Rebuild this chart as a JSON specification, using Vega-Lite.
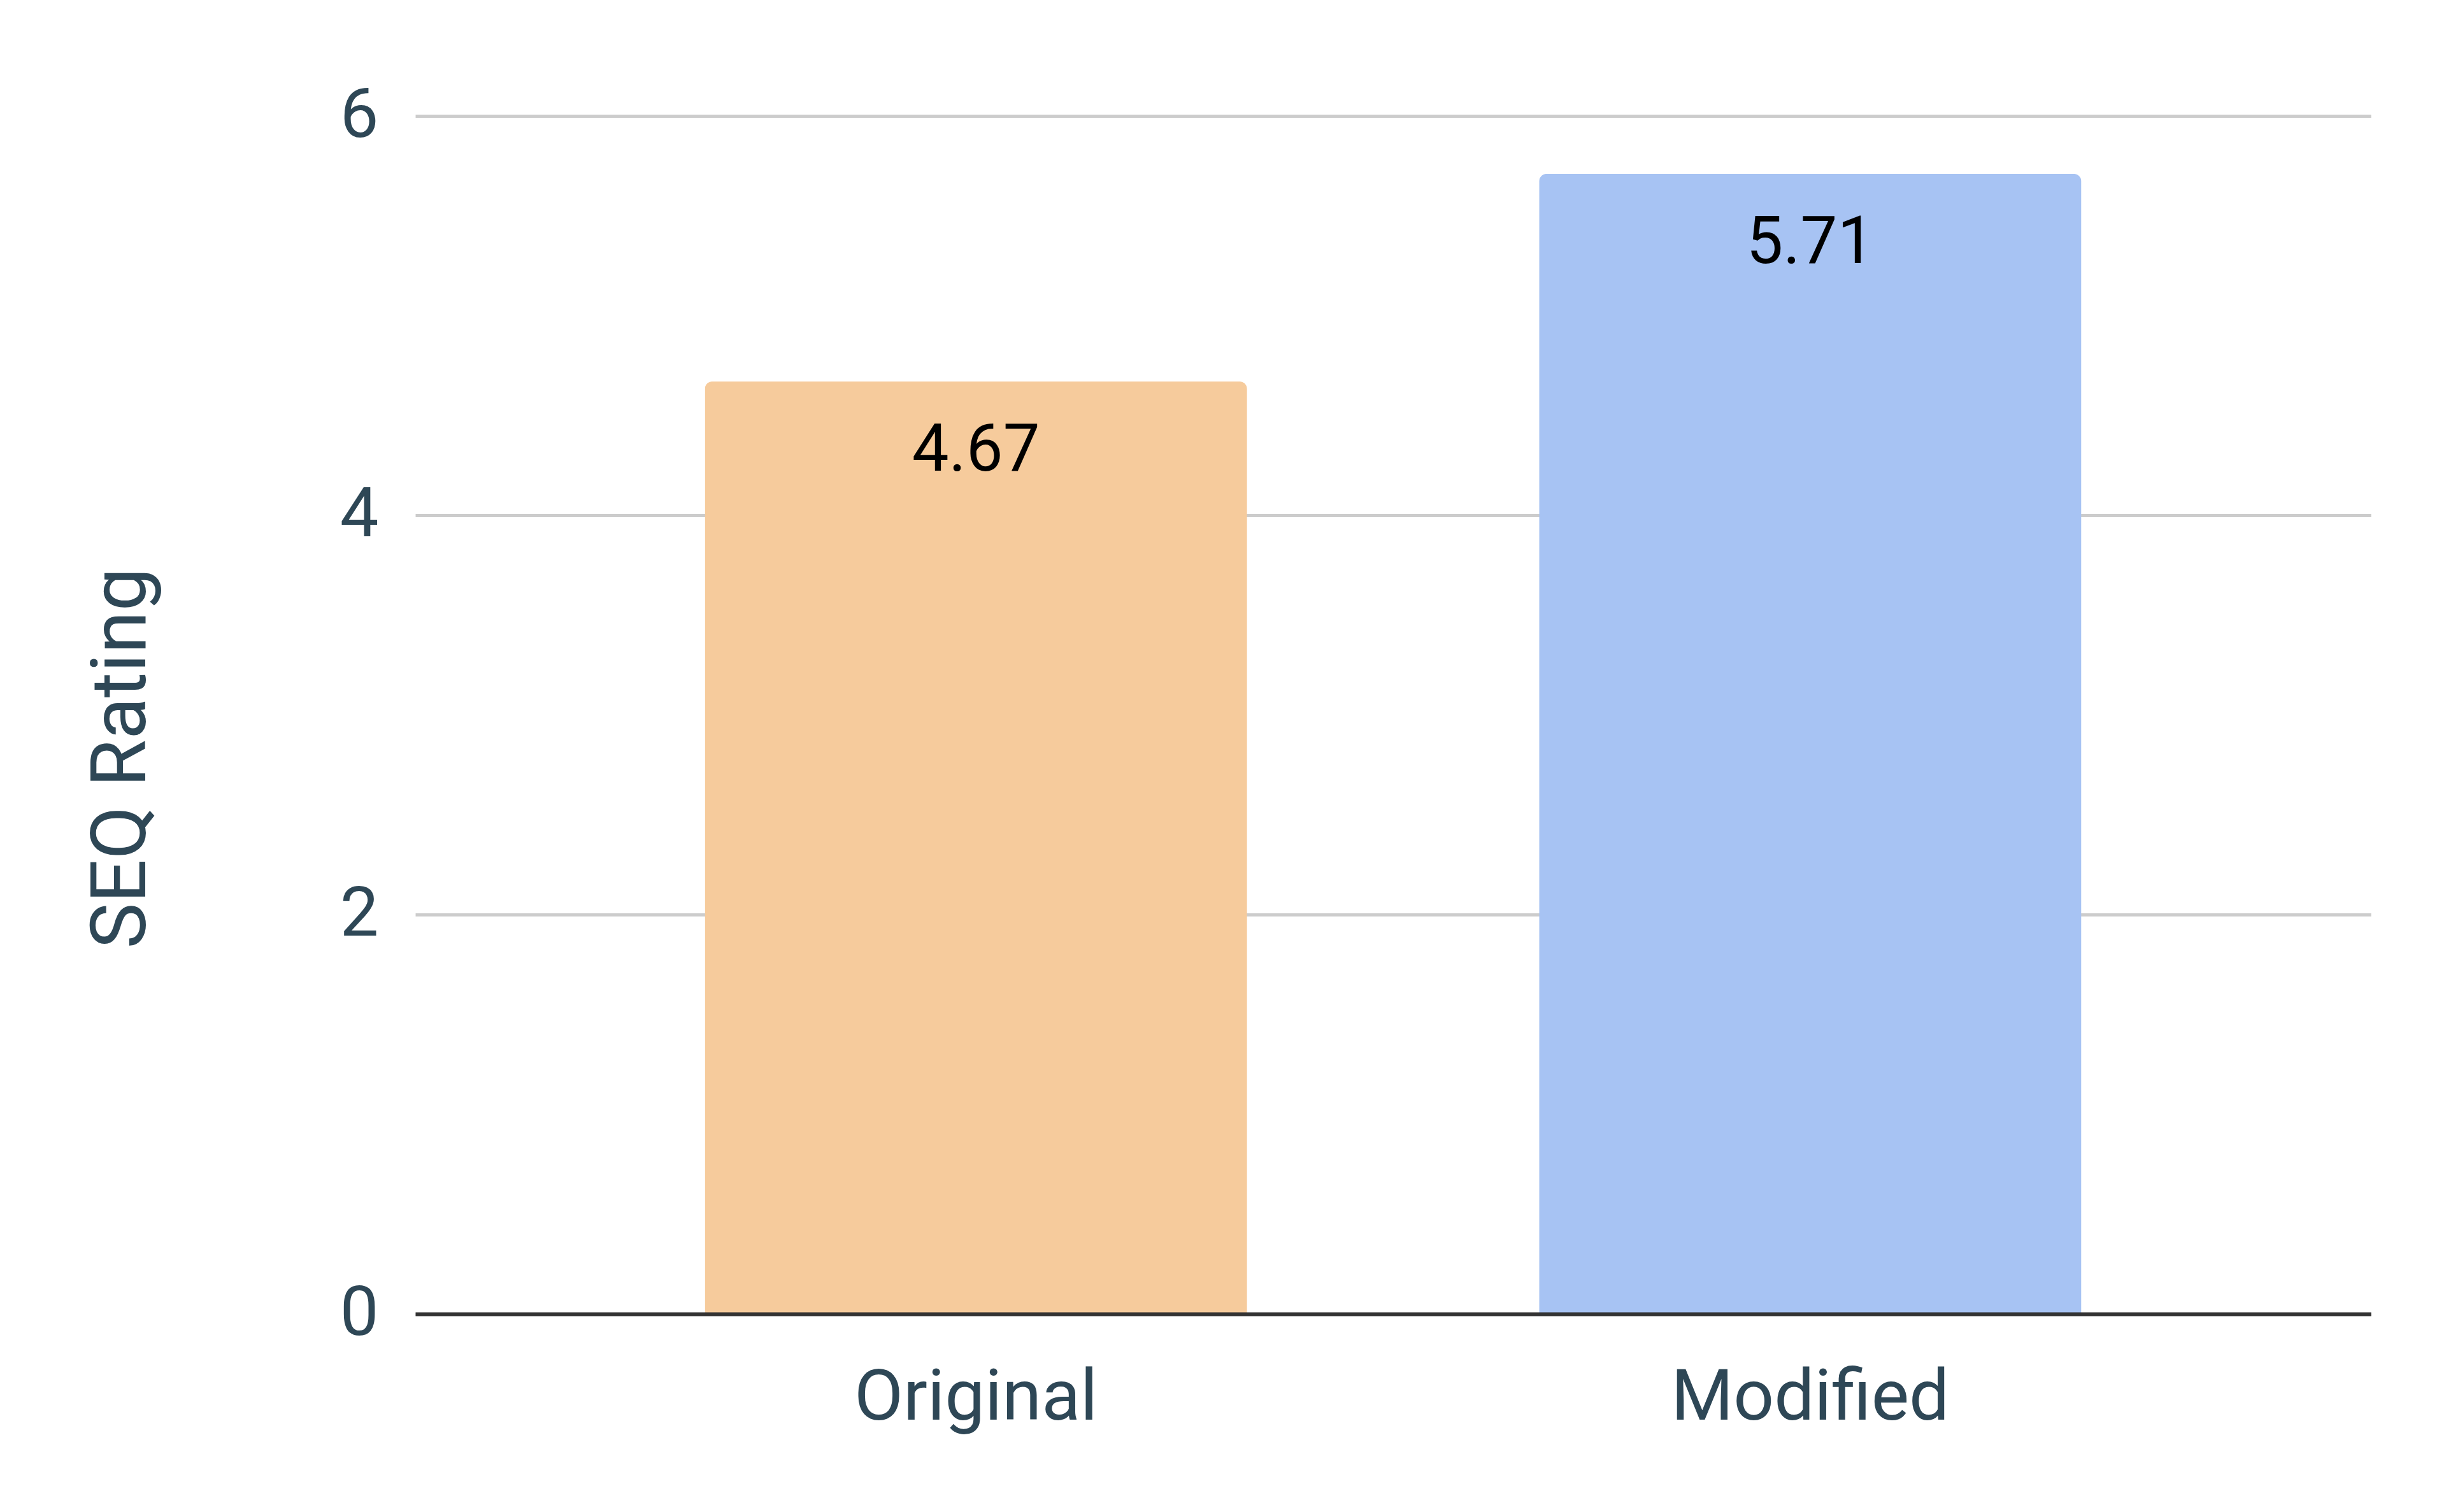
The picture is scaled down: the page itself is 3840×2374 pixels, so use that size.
{
  "$schema": "https://vega.github.io/schema/vega-lite/v6.json",
  "width": 3070,
  "height": 1881,
  "autosize": {"type": "none"},
  "padding": {"left": 652, "top": 182, "right": 118, "bottom": 311},
  "background": "white",
  "config": {
    "font": "Roboto",
    "view": {"stroke": null}
  },
  "data": {
    "values": [
      {"version": "Original", "rating": 4.67},
      {"version": "Modified", "rating": 5.71}
    ]
  },
  "encoding": {
    "x": {
      "field": "version",
      "type": "nominal",
      "sort": ["Original", "Modified"],
      "scale": {"paddingInner": 0.35, "paddingOuter": 0.347},
      "axis": {
        "title": null,
        "labelAngle": 0,
        "labelLimit": 0,
        "ticks": false,
        "labelFontSize": 112,
        "labelColor": "#2E4756",
        "labelBaseline": "alphabetic",
        "labelPadding": 165,
        "domainColor": "#333333",
        "domainWidth": 6,
        "zindex": 2
      }
    },
    "y": {
      "field": "rating",
      "type": "quantitative",
      "scale": {"domain": [0, 6], "nice": false},
      "axis": {
        "values": [0, 2, 4, 6],
        "title": "SEQ Rating",
        "titleFontSize": 121,
        "titleFontWeight": "normal",
        "titleColor": "#2E4756",
        "titleAngle": -90,
        "titleAlign": "center",
        "titleBaseline": "alphabetic",
        "titleX": -425,
        "titleY": 1008,
        "ticks": false,
        "domain": false,
        "labelFontSize": 108,
        "labelColor": "#2E4756",
        "labelPadding": 58,
        "gridColor": "#CCCCCC",
        "gridWidth": 5
      }
    }
  },
  "layer": [
    {
      "mark": {"type": "bar", "cornerRadiusTopLeft": 12, "cornerRadiusTopRight": 12},
      "encoding": {
        "color": {
          "field": "version",
          "type": "nominal",
          "scale": {"domain": ["Original", "Modified"], "range": ["#F6CB9C", "#A7C3F3"]},
          "legend": null
        }
      }
    },
    {
      "mark": {"type": "text", "baseline": "alphabetic", "dy": 140, "fontSize": 103, "color": "#000000", "font": "Roboto"},
      "encoding": {
        "text": {"field": "rating", "type": "quantitative", "format": ".2f"}
      }
    }
  ]
}
